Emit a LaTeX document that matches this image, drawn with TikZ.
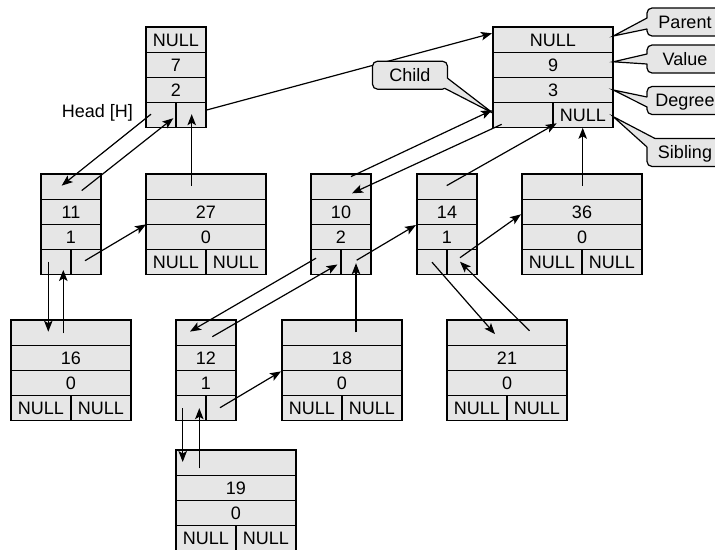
\documentclass[tikz,border=0pt]{standalone}
\usepackage{fontspec}
\setmainfont{Liberation Sans}
\usetikzlibrary{arrows.meta,calc}
\definecolor{cellgray}{RGB}{230,230,230}
\tikzset{
  cell/.style={draw=black, fill=cellgray, line width=1.2pt, rectangle, inner sep=0pt, outer sep=0pt,
    minimum height=25.2pt, text height=12.9pt, text depth=0pt, font=\fontsize{18}{20}\selectfont},
  link/.style={line width=1.2pt, -{Stealth[length=11pt,width=8.5pt,inset=2.5pt]}},
  tag/.style={draw=black, fill=cellgray, line width=1.2pt, rectangle, rounded corners=5pt, inner sep=0pt, outer sep=0pt,
    minimum width=76pt, minimum height=28pt, text height=12.9pt, text depth=0pt, font=\fontsize{18}{20}\selectfont},
  plaintext/.style={inner sep=0pt, outer sep=0pt, text height=12.9pt, text depth=0pt, font=\fontsize{18}{20}\selectfont}
}
% #1 name, #2 left x, #3 top y, #4 width, #5 parent, #6 value, #7 degree, #8 child cell, #9 sibling cell
\newcommand\heapbox[9]{%
  \node[cell, minimum width=#4pt, anchor=north west] (#1-p) at (#2,#3) {#5};
  \node[cell, minimum width=#4pt, anchor=north] (#1-v) at (#1-p.south) {#6};
  \node[cell, minimum width=#4pt, anchor=north] (#1-d) at (#1-v.south) {#7};
  \node[cell, minimum width=#4pt/2, anchor=north west] (#1-c) at (#1-d.south west) {#8};
  \node[cell, minimum width=#4pt/2, anchor=north east] (#1-s) at (#1-d.south east) {#9};
}
\newcommand\calloutwedge[4]{%
  \fill[cellgray] #1 -- #2 -- #3 -- #4 -- cycle;
  \draw[line width=1.2pt] #2 -- #1 -- #4;
}
\begin{document}
\begin{tikzpicture}[x=1pt,y=-1pt]
\useasboundingbox (0,0) rectangle (715,549);

\heapbox{n7}{146}{27}{60}{NULL}{7}{2}{}{}
\heapbox{n9}{493}{27}{120}{NULL}{9}{3}{}{NULL}
\heapbox{n11}{41}{174}{60}{}{11}{1}{}{}
\heapbox{n27}{146}{174}{120}{}{27}{0}{NULL}{NULL}
\heapbox{n10}{311}{174}{60}{}{10}{2}{}{}
\heapbox{n14}{417}{174}{60}{}{14}{1}{}{}
\heapbox{n36}{522}{174}{120}{}{36}{0}{NULL}{NULL}
\heapbox{n16}{11}{320}{120}{}{16}{0}{NULL}{NULL}
\heapbox{n12}{176}{320}{60}{}{12}{1}{}{}
\heapbox{n18}{282}{320}{120}{}{18}{0}{NULL}{NULL}
\heapbox{n21}{447}{320}{120}{}{21}{0}{NULL}{NULL}
\heapbox{n19}{176}{450}{120}{}{19}{0}{NULL}{NULL}

% connectors
\draw[link] ($(n7-c.center)+(-10,-1)$) -- ($(n11-p.center)+(-9.3,-1)$);
\draw[link] ($(n11-p.center)+(10.7,4)$) -- ($(n7-c.center)+(12.3,3)$);
\draw[link] ($(n27-p.center)+(-14.3,-1)$) -- ($(n7-s.center)+(0.7,-1)$);
\draw[link] ($(n11-s.center)+(-1,-1.5)$) -- (n27-v.south west);
\draw[link] ($(n7-s.east)+(0,-5)$) -- ($(n9-p.west)+(-1,-6.3)$);
\draw[link] ($(n10-p.center)+(10,-10)$) -- ($(n9-c.center)+(-31,-5)$);
\draw[link] ($(n9-c.center)+(-21.3,9.1)$) -- ($(n10-p.center)+(11,6.7)$);
\draw[link] ($(n14-p.center)+(-0.3,-1)$) -- ($(n9-s.center)+(-26.3,8.1)$);
\draw[link] ($(n36-p.center)+(0.7,-1)$) -- ($(n9-s.south)+(-0.3,0)$);
\draw[link] ($(n10-s.center)+(0.7,-2)$) -- ($(n14-v.south west)+(-1,0.6)$);
\draw[link] ($(n14-s.center)+(-2,-4.5)$) -- ($(n36-v.west)+(-1,2.5)$);
\draw[link] ($(n10-c.center)+(-10,-4)$) -- ($(n12-p.center)+(-16,-1)$);
\draw[link] ($(n12-p.center)+(6.3,4.1)$) -- ($(n10-c.center)+(11.5,2.3)$);
\draw[link] ($(n18-p.center)+(14,-0.3)$) -- ($(n10-s.center)+(0,1)$);
\draw[link] (n14-c.center) -- ($(n21-p.center)+(-12,1.5)$);
\draw[link] ($(n21-p.center)+(22.5,-1.8)$) -- ($(n14-s.center)+(-2,-0.5)$);
\draw[link] ($(n11-c.center)+(-7.7,-0.5)$) -- ($(n16-p.center)+(-22.7,-0.9)$);
\draw[link] ($(n16-p.center)+(-7.7,0.7)$) -- ($(n11-c.center)+(7.3,7.8)$);
\draw[link] ($(n12-c.center)+(-8.3,0)$) -- ($(n19-p.center)+(-53.3,-0.6)$);
\draw[link] ($(n19-p.center)+(-36.7,5.7)$) -- ($(n12-c.center)+(8.3,0)$);
\draw[link] ($(n12-s.center)+(-1,-0.5)$) -- ($(n18-v.south west)+(-1,1)$);

% head label
\node[plaintext, anchor=east] (head) at (133,110.8) {Head [H]};

% callouts
\node[tag] (cparent) at (685,22) {Parent};
\node[tag] (cvalue) at (685,59) {Value};
\node[tag] (cdegree) at (685,100.5) {Degree};
\node[tag] (csibling) at (685,152.5) {Sibling};
\node[tag, minimum width=75pt] (cchild) at (410,75.2) {Child};

\calloutwedge{($(n9-p.east)+(0.3,-3.6)$)}{($(cparent.west)+(0,-4)$)}{($(cparent.west)+(6,2)$)}{($(cparent.west)+(0,7)$)}
\calloutwedge{($(n9-v.east)+(0.3,-3)$)}{($(cvalue.west)+(0,-5)$)}{($(cvalue.west)+(6,0)$)}{($(cvalue.west)+(0,5)$)}
\calloutwedge{($(n9-d.east)+(0.3,0)$)}{($(cdegree.west)+(0,-3.5)$)}{($(cdegree.west)+(6,1.5)$)}{($(cdegree.west)+(0,6.5)$)}
\calloutwedge{($(n9-s.east)+(0.3,1.5)$)}{($(csibling.north west)+(8,0)$)}{($(csibling.north west)+(7,7)$)}{($(csibling.north west)+(0,8.5)$)}
\calloutwedge{($(n9-c.center)+(-30,-2)$)}{($(cchild.east)+(0,3)$)}{($(cchild.east)+(-6,6)$)}{($(cchild.south east)+(-3,-1)$)}
\end{tikzpicture}
\end{document}
